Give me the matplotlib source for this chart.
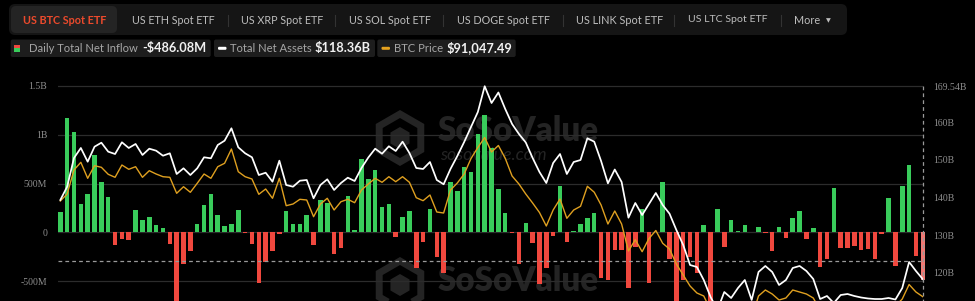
import matplotlib
matplotlib.use('Agg')
import matplotlib.pyplot as plt
from matplotlib.patches import FancyBboxPatch, RegularPolygon
import numpy as np

# ---------------- data ----------------
net_inflow_m = [212, 1176, 1026, 294, 397, 793, 520, 359, -130, -65,
                -82, 226, 130, 157, 79, 41, -116, -812, -320, -192,
                89, 277, 397, 174, 62, 82, 229, -10, -120, -520,
                -308, -192, -20, 215, 82, 80, 178, -127, 332, 298,
                -226, -161, 369, 20, 756, 550, 640, 256, 291, -51,
                161, 219, -363, -103, 236, -250, -414, 520, 424, 674,
                622, 1010, 1204, 860, 441, 195, -7, -321, 99, -106,
                -530, -363, -35, 476, -103, 17, 86, 150, 202, -470,
                -490, -185, -182, -575, -150, 236, -520, 0, 520, -277,
                -866, -489, -253, -420, 72, -903, 236, -152, 125, 18,
                72, 6, 56, -12, -191, 51, -62, 150, 220, -72,
                45, -358, -277, 455, -158, -157, -140, -186, -174, -275,
                -17, 352, -345, 470, 694, -239, -486.08]

total_net_assets_b = [139.36, 142.89, 150.50, 153.16, 149.52, 153.50, 154.56, 152.18, 151.56, 154.67,
                      153.16, 154.22, 151.30, 152.97, 152.44, 151.11, 151.75, 146.26, 147.77, 145.99,
                      147.77, 150.69, 150.42, 153.95, 155.09, 158.38, 153.34, 151.75, 150.69, 145.99,
                      146.60, 144.22, 149.79, 143.34, 142.89, 144.48, 144.67, 139.81, 143.34, 144.85,
                      142.02, 143.87, 145.28, 144.40, 147.85, 150.64, 152.97, 151.64, 153.61, 152.36,
                      154.83, 151.83, 147.85, 147.59, 149.44, 144.67, 143.53, 147.59, 151.03, 154.75,
                      158.73, 162.71, 169.54, 165.09, 167.88, 163.50, 159.52, 156.87, 154.62, 150.50,
                      146.79, 143.87, 149.18, 151.56, 146.26, 149.44, 149.97, 155.73, 154.83, 149.71,
                      143.79, 147.45, 144.14, 134.67, 138.57, 135.38, 138.30, 141.22, 138.04, 135.73,
                      131.41, 127.43, 122.12, 121.59, 118.14, 113.63, 110.19, 114.96, 113.37, 116.02,
                      118.14, 112.84, 120.27, 121.86, 120.27, 116.82, 118.14, 121.33, 121.86, 120.53,
                      118.41, 113.10, 113.90, 112.04, 114.16, 114.43, 113.90, 113.50, 113.24, 113.10,
                      113.10, 113.37, 112.97, 116.02, 122.92, 120.53, 118.36]

btc_price = [111288, 112768, 117844, 119473, 116089, 118754, 118415, 116935, 116300, 118902,
             117992, 118542, 116300, 117696, 116998, 116427, 116300, 112916, 114312, 113128,
             115031, 116998, 116089, 118542, 119261, 122286, 117485, 116427, 115941, 112705,
             113826, 111859, 116089, 110294, 110653, 111647, 111499, 107967, 110653, 111859,
             109384, 111140, 111647, 110928, 113614, 114883, 116089, 115243, 116427, 115370,
             116427, 115243, 111986, 111351, 112557, 108961, 108750, 113614, 115095, 116998,
             120276, 122603, 124718, 121651, 123026, 120319, 116575, 114883, 112768, 110865,
             108855, 106000, 109384, 111711, 107629, 109384, 110167, 114397, 113149, 110442,
             106423, 109173, 106423, 100713, 103103, 100565, 103356, 105048, 102341, 101136,
             97963, 95637, 93310, 91830, 91195, 88234, 85062, 87177, 86119, 87811,
             89292, 86542, 91195, 92464, 91618, 90349, 90772, 92464, 92041, 91618,
             90772, 88234, 89080, 87811, 89292, 89292, 89080, 88869, 89080, 89292,
             89080, 89292, 89080, 90561, 93627, 92041, 91047.49]

left_tick_values = [-500, 0, 500, 1000, 1500]
left_tick_labels = ['-500M', '0', '500M', '1B', '1.5B']
right_tick_values = [120, 130, 140, 150, 160, 169.54]
right_tick_labels = ['120B', '130B', '140B', '150B', '160B', '169.54B']

tabs = ['US BTC Spot ETF', 'US ETH Spot ETF', 'US XRP Spot ETF', 'US SOL Spot ETF',
        'US DOGE Spot ETF', 'US LINK Spot ETF', 'US LTC Spot ETF', 'More']
legend_labels = ['Daily Total Net Inflow', 'Total Net Assets', 'BTC Price']
legend_values = ['-$486.08M', '$118.36B', '$91,047.49']
watermark_name = 'SoSoValue'
watermark_site = 'sosovalue.com'

# ---------------- style ----------------
W, H = 975, 301
BG = '#000000'
GREEN = '#39cc5b'
RED = '#f0483e'
RED_HI = '#f27873'
WHITE = '#ffffff'
ORANGE = '#dfa020'
GRID = '#2c2c2c'
TICK = '#8e8e8e'
SERIF = ['Liberation Serif', 'DejaVu Serif']
UI = ['Lato', 'DejaVu Sans']

fig = plt.figure(figsize=(W / 100, H / 100), dpi=100, facecolor=BG)

# overlay (pixel coordinates) behind the chart
ov = fig.add_axes([0, 0, 1, 1], zorder=0)
ov.set_xlim(0, W)
ov.set_ylim(H, 0)
ov.axis('off')
ov.set_facecolor(BG)

renderer = fig.canvas.get_renderer()


def fit_text(axis, x0, x1, y, s, color, weight='normal', style='normal', family=UI, fs=8.0, clip=False):
    t = axis.text(x0, y, s, color=color, fontsize=fs, fontweight=weight, fontstyle=style,
                  family=family, va='center', ha='left', clip_on=clip)
    bb = t.get_window_extent(renderer=renderer)
    if bb.width > 0:
        t.set_fontsize(fs * (x1 - x0) / bb.width)
    return t


# ---- watermarks ----
WM = '#242424'
ov.add_patch(RegularPolygon((400, 138), numVertices=6, radius=24, orientation=0,
                            facecolor='none', edgecolor=WM, lw=5, zorder=1))
ov.add_patch(RegularPolygon((400, 138), numVertices=6, radius=11, orientation=0,
                            facecolor=WM, edgecolor='none', zorder=1))
fit_text(ov, 438, 600, 131, watermark_name, WM, weight='heavy')
fit_text(ov, 440, 547, 155, watermark_site, WM, style='italic')
# second (cut-off) watermark
ov.add_patch(RegularPolygon((400, 285), numVertices=6, radius=24, orientation=0,
                            facecolor='none', edgecolor=WM, lw=5, zorder=1))
ov.add_patch(RegularPolygon((400, 285), numVertices=6, radius=11, orientation=0,
                            facecolor=WM, edgecolor='none', zorder=1))
fit_text(ov, 438, 600, 281, watermark_name, WM, weight='heavy')

# ---- header tab bar ----
ov.add_patch(FancyBboxPatch((9, 4), 838, 31, boxstyle='round,pad=0,rounding_size=6',
                            facecolor='#151515', edgecolor='none'))
ov.add_patch(FancyBboxPatch((11, 6), 106, 27, boxstyle='round,pad=0,rounding_size=5',
                            facecolor='#242424', edgecolor='none'))
tab_spans = [(23.3, 106.7), (131.7, 215), (240.7, 323.3), (348.7, 431),
             (456.7, 550), (575.7, 662.7), (688.3, 767.7), (794, 820)]
for i, (s, (a, b)) in enumerate(zip(tabs, tab_spans)):
    if i == 0:
        fit_text(ov, a, b, 20, s, '#ec4a2c', weight='bold')
    else:
        fit_text(ov, a, b, 20, s, '#bdbdbd')
ov.text(828.5, 20.5, '\u25BC', color='#bdbdbd', fontsize=4.5, ha='center', va='center', family=['DejaVu Sans'])
for sx in (227.7, 335.3, 443.3, 562.7, 674.3, 781):
    ov.plot([sx, sx], [14.5, 25.5], color='#333333', lw=0.8)

# ---- legend chips ----
chips = [(10.7, 210.7), (214, 375), (377.3, 515.7)]
for a, b in chips:
    ov.add_patch(FancyBboxPatch((a, 39.5), b - a, 17.5, boxstyle='round,pad=0,rounding_size=2',
                                facecolor='#1d1d1d', edgecolor='none'))
# icons
ov.add_patch(plt.Rectangle((14.3, 44.5), 6, 3.5, facecolor=RED, edgecolor='none'))
ov.add_patch(plt.Rectangle((14.3, 48.0), 6, 3.5, facecolor=GREEN, edgecolor='none'))
ov.add_patch(FancyBboxPatch((218, 46.8), 8.5, 3, boxstyle='round,pad=0,rounding_size=1.2',
                            facecolor=WHITE, edgecolor='none'))
ov.add_patch(FancyBboxPatch((381.5, 46.8), 8.5, 3, boxstyle='round,pad=0,rounding_size=1.2',
                            facecolor='#e6a21e', edgecolor='none'))
label_spans = [(29.3, 139), (230, 311.7), (394, 443.3)]
value_spans = [(142.7, 207.3), (315, 371.7), (446.7, 513.3)]
for lab, val, (a, b), (c, d) in zip(legend_labels, legend_values, label_spans, value_spans):
    fit_text(ov, a, b, 48.5, lab, '#a6a6a6')
    fit_text(ov, c, d, 48, val, '#f2f2f2', weight='bold')

# ---------------- chart ----------------
top_px, bot_px, left_px, right_px = 80, 378.6, 57.7, 923
ax = fig.add_axes([left_px / W, (H - bot_px) / H, (right_px - left_px) / W, (bot_px - top_px) / H], zorder=2)
ax.patch.set_visible(False)
for sp in ax.spines.values():
    sp.set_visible(False)

n = len(net_inflow_m)
x = np.arange(1, n + 1)
vals = np.array(net_inflow_m)
colors = [GREEN if v >= 0 else RED for v in vals]
colors[-1] = RED_HI
ax.set_xlim(0.62, 127.03)
ax.set_ylim(-1500, 1561.4)
for tv in left_tick_values:
    ax.axhline(tv, color=GRID, lw=0.9, zorder=0)
ax.bar(x, vals, width=0.66, color=colors, zorder=2, clip_on=False)
ax.set_xticks([])
ax.set_yticks(left_tick_values)
ax.set_yticklabels(left_tick_labels)
ax.tick_params(axis='y', length=0, pad=7.5, labelcolor=TICK, labelsize=7)
for lab in ax.get_yticklabels():
    lab.set_family(SERIF)

# crosshair
ax.axhline(-291, color='#9a9a9a', lw=0.9, ls=(0, (3, 2.5)), zorder=3)
ax.plot([127, 127], [1500, -1500], color='#9a9a9a', lw=0.9, ls=(0, (3, 2.5)), zorder=3, clip_on=False)

# assets axis (right)
ax2 = ax.twinx()
ax2.set_zorder(3)
ax2.patch.set_visible(False)
for sp in ax2.spines.values():
    sp.set_visible(False)
ax2.set_ylim(91.99, 171.19)
ax2.set_xlim(0.62, 127.03)
ax2.plot(x, total_net_assets_b, color=WHITE, lw=1.25, zorder=4)
ax2.set_yticks(right_tick_values)
ax2.set_yticklabels(right_tick_labels)
ax2.tick_params(axis='y', length=0, pad=7, labelcolor=TICK, labelsize=7)
for lab in ax2.get_yticklabels():
    lab.set_family(SERIF)

# price axis (hidden)
ax3 = ax.twinx()
ax3.set_zorder(2.5)
ax3.patch.set_visible(False)
ax3.axis('off')
ax3.set_ylim(73725, 136880)
ax3.set_xlim(0.62, 127.03)
ax3.plot(x, btc_price, color=ORANGE, lw=1.0, zorder=3)

fig.savefig('out.png', dpi=100, facecolor=BG)
